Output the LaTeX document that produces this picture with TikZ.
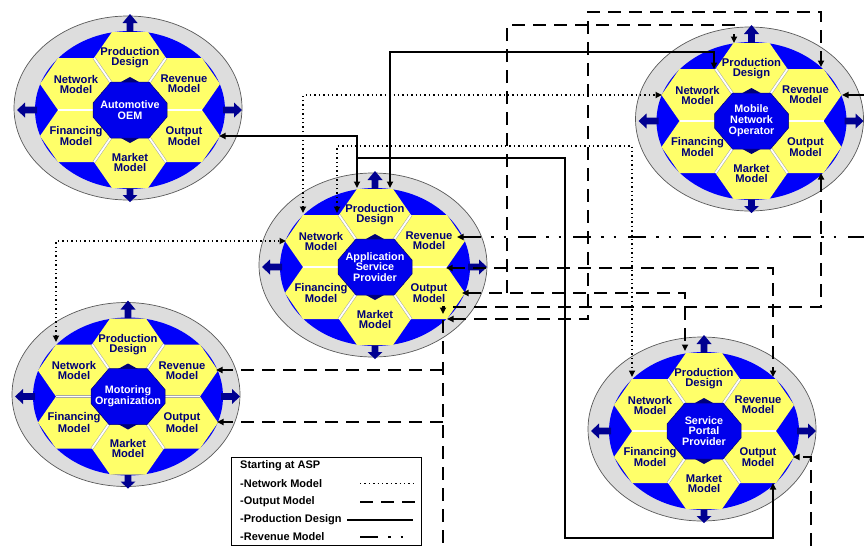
\documentclass[tikz,border=0pt]{standalone}
\usepackage{fontspec}
\setmainfont{Liberation Sans}
\usetikzlibrary{arrows.meta}
\definecolor{hexyellow}{RGB}{255,255,105}
\definecolor{ringblue}{RGB}{0,0,250}
\definecolor{corelight}{RGB}{0,0,235}
\definecolor{coredark}{RGB}{0,0,120}
\definecolor{navytext}{RGB}{0,0,120}
\definecolor{ringgray}{RGB}{221,221,221}
\definecolor{arrowblue}{RGB}{0,0,145}
\tikzset{
  hexfill/.style={fill=hexyellow},
  hexlabel/.style={text=navytext,font=\fontsize{11.2}{10}\selectfont\bfseries,align=center,inner sep=0pt},
  corelabel/.style={text=white,font=\fontsize{10.8}{10.8}\selectfont\bfseries,align=center,inner sep=0pt},
  sepline/.style={draw=gray!70,double=white,line width=0.5pt,double distance=1.8pt},
  bluearrow/.style={fill=arrowblue},
  netl/.style={line width=1.6pt,dash pattern=on 1.4pt off 3pt},
  outl/.style={line width=2pt,dash pattern=on 13pt off 8pt},
  prodl/.style={line width=2pt},
  revl/.style={line width=2pt,dash pattern=on 18pt off 10pt on 2.5pt off 10pt on 2.5pt off 12pt},
  legtext/.style={font=\fontsize{11}{12}\selectfont\bfseries,anchor=west,inner sep=0pt},
  legbox/.style={draw,line width=0.8pt,fill=white,anchor=north west,inner sep=0pt,minimum width=190pt,minimum height=88pt},
}
\newcommand\hexcell[2]{\fill[hexfill,shift={(#1,#2)}] (-36,0) -- (-18,-26) -- (18,-26) -- (36,0) -- (18,26) -- (-18,26) -- cycle;}
\newcommand\entityDraw[4]{%
\begin{scope}[shift={(#2,#3)}]
  \filldraw[fill=ringgray,draw=black!65,line width=0.7pt] (-2,-2) ellipse [x radius=114,y radius=92];
  \fill[ringblue] (0,0) ellipse [x radius=95,y radius=79];
  \fill[bluearrow] (-3.3,-78) -- (-3.3,-87) -- (-7.5,-87) -- (0,-96) -- (7.5,-87) -- (3.3,-87) -- (3.3,-78) -- cycle;
  \fill[bluearrow] (-3.3,78) -- (-3.3,85) -- (-7.5,85) -- (0,92) -- (7.5,85) -- (3.3,85) -- (3.3,78) -- cycle;
  \fill[bluearrow] (93,-3.3) -- (104,-3.3) -- (104,-7.5) -- (112,0) -- (104,7.5) -- (104,3.3) -- (93,3.3) -- cycle;
  \fill[bluearrow] (-93,-3.3) -- (-105,-3.3) -- (-105,-7.5) -- (-113,0) -- (-105,7.5) -- (-105,3.3) -- (-93,3.3) -- cycle;
  \hexcell{0}{-52}\hexcell{0}{52}\hexcell{-54}{-26}\hexcell{54}{-26}\hexcell{-54}{26}\hexcell{54}{26}
  \draw[sepline] (-18,-26) -- (-36,-52);
  \draw[sepline] (18,-26) -- (36,-52);
  \draw[sepline] (-36,0) -- (-72,0);
  \draw[sepline] (36,0) -- (72,0);
  \draw[sepline] (-18,26) -- (-36,52);
  \draw[sepline] (18,26) -- (36,52);
  \fill[coredark] (0,-33) -- (29,-17) -- (29,17) -- (0,33) -- (-29,17) -- (-29,-17) -- cycle;
  \filldraw[fill=corelight,draw=coredark,line width=0.5pt] (-19,-28) -- (19,-28) -- (37,-7) -- (37,7) -- (19,28) -- (-19,28) -- (-37,7) -- (-37,-7) -- cycle;
  \node[hexlabel] (#1-pd) at (0,-52) {Production\\Design};
  \node[hexlabel] (#1-nm) at (-54,-26) {Network\\Model};
  \node[hexlabel] (#1-rm) at (54,-26) {Revenue\\Model};
  \node[hexlabel] (#1-fm) at (-54,26) {Financing\\Model};
  \node[hexlabel] (#1-om) at (54,26) {Output\\Model};
  \node[hexlabel] (#1-mm) at (0,52) {Market\\Model};
  \node[corelabel] (#1) at (0,0) {#4};
\end{scope}}
\begin{document}
\begin{tikzpicture}[x=1pt,y=-1pt,>={Triangle[length=6.5pt,width=6pt]}]
\useasboundingbox (0,0) rectangle (864,546);
\fill[white] (0,0) rectangle (864,546);
\entityDraw{ao}{130}{110}{Automotive\\OEM}
\entityDraw{asp}{375}{267}{Application\\Service\\Provider}
\entityDraw{mno}{751.5}{121}{Mobile\\Network\\Operator}
\entityDraw{spp}{704}{431}{Service\\Portal\\Provider}
\entityDraw{mo}{128}{396.5}{Motoring\\Organization}
% ports
\coordinate (ao-port) at (219,136);
\coordinate (asp-pa) at (357,188);
\coordinate (asp-pb) at (390,188);
\coordinate (asp-na) at (303,213);
\coordinate (asp-nb) at (337,213);
\coordinate (asp-nl) at (286,241);
\coordinate (asp-rr) at (457,237);
\coordinate (asp-mid) at (446,268);
\coordinate (asp-or) at (462,293);
\coordinate (asp-ob) at (443,314);
\coordinate (asp-oc) at (447,319);
\coordinate (mno-pt) at (734,43);
\coordinate (mno-nb) at (714,69);
\coordinate (mno-nl) at (662,95);
\coordinate (mno-rt) at (821,67);
\coordinate (mno-rr) at (842,95);
\coordinate (mno-ob) at (821,173);
\coordinate (spp-pt) at (685,351);
\coordinate (spp-nt) at (632,377);
\coordinate (spp-rt) at (773,377);
\coordinate (spp-or) at (793,457);
\coordinate (spp-ob) at (773,483);
\coordinate (mo-nt) at (56,342);
\coordinate (mo-rr) at (216,370);
\coordinate (mo-or) at (217,422);
\coordinate (edge-ra) at (864,237);
\coordinate (edge-rb) at (864,95);
\coordinate (edge-ba) at (443,546);
\coordinate (edge-bb) at (811,546);
\coordinate (j-s2) at (357,158);
\coordinate (j-d1) at (507,293);
\coordinate (j-d5) at (443,320);
\coordinate (j-d5a) at (443,370);
\coordinate (j-d5b) at (443,422);
% Production Design (solid)
\draw[prodl,<->] (ao-port) -| (asp-pa);
\draw[prodl,->] (j-s2) -- (565,158) -- (565,538) -| (spp-ob);
\draw[prodl,<->] (asp-pb) -- (390,52) -| (mno-nb);
% Network Model (dotted)
\draw[netl,<->] (asp-na) |- (mno-nl);
\draw[netl,<->] (asp-nb) -- (337,146) -| (spp-nt);
\draw[netl,<->] (mo-nt) |- (asp-nl);
% Revenue Model (dash dot dot)
\draw[revl,<-] (asp-rr) -- (edge-ra);
\draw[revl,->] (edge-rb) -- (mno-rr);
% Output Model (dashed)
\draw[outl,<->] (asp-or) -| (spp-pt);
\draw[outl,->] (j-d1) -- (507,25) -| (mno-pt);
\draw[outl,<->] (asp-mid) -| (spp-rt);
\draw[outl,<->] (mno-ob) -- (821,307) -| (asp-ob);
\draw[outl,<->] (asp-oc) -- (588,319) -- (588,12) -| (mno-rt);
\draw[outl] (j-d5) -- (edge-ba);
\draw[outl,->] (j-d5a) -- (mo-rr);
\draw[outl,->] (j-d5b) -- (mo-or);
\draw[outl,->] (edge-bb) |- (spp-or);
% legend
\node[legbox] (legend) at (231,457) {};
\node[legtext] (lg0) at (240,466) {Starting at ASP};
\node[legtext] (lg1) at (240,483.5) {-Network Model};
\node[legtext] (lg2) at (240,501.5) {-Output Model};
\node[legtext] (lg3) at (240,519.5) {-Production Design};
\node[legtext] (lg4) at (240,537) {-Revenue Model};
\draw[netl] (360,483.5) -- (415,483.5);
\draw[outl] (360,501.5) -- (415,501.5);
\draw[prodl] (347,519.5) -- (413,519.5);
\draw[revl] (360,537) -- (414,537);
\end{tikzpicture}
\end{document}
